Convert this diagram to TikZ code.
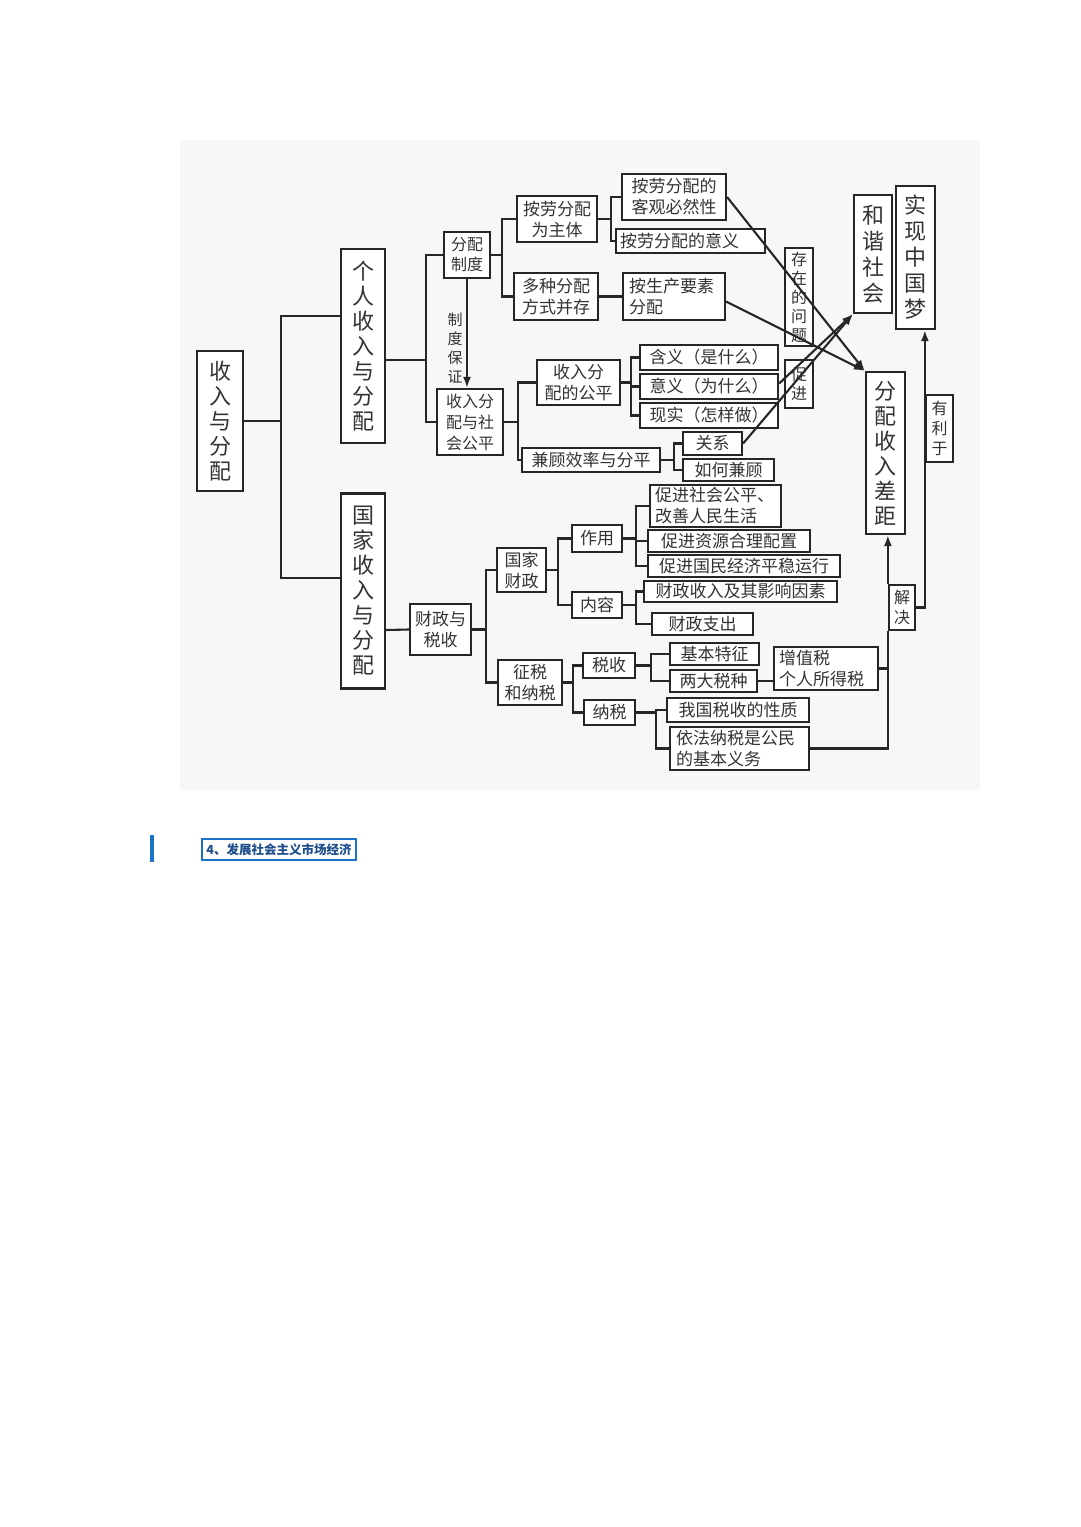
\documentclass[tikz,border=0pt]{standalone}
\usepackage{fontspec}
\setmainfont{Noto Sans CJK SC}
\usetikzlibrary{arrows.meta}
\newcommand\fsz[2]{\fontsize{#1}{#2}\selectfont}
\definecolor{bluemark}{HTML}{1A73C8}
\definecolor{bluetext}{HTML}{1F4E8C}
\tikzset{
  box/.style={draw=black!85, line width=2.2pt, fill=white, inner sep=0pt, align=center, text=black!80, font=\fsz{17}{21}},
  vbig/.style={box, font=\fsz{22}{25}},
  vsmall/.style={box, font=\fsz{16}{19}},
  lbox/.style={box, align=left},
  ln/.style={draw=black!85, line width=2.1pt},
  arr/.style={ln, -{Latex[length=11pt,width=8pt]}},
}
\begin{document}
\begin{tikzpicture}[x=1pt,y=-1pt]
\useasboundingbox (0,0) rectangle (1080,1527);
\fill[white] (0,0) rectangle (1080,1527);
\fill[black!3] (180,140) rectangle (980,790);

% main column
\node[vbig, minimum width=46, minimum height=140] (sr) at (220,421) {收\\入\\与\\分\\配};
\node[vbig, minimum width=44, minimum height=194] (gr) at (363,346) {个\\人\\收\\入\\与\\分\\配};
\node[vbig, minimum width=44, minimum height=195] (gj) at (363,591) {国\\家\\收\\入\\与\\分\\配};

% upper part
\node[box, font=\fsz{16}{20}, minimum width=46, minimum height=46] (fpzd) at (467,255) {分配\\制度};
\node[box, font=\fsz{16}{21}, minimum width=66, minimum height=66] (srfpsh) at (470,422) {收入分\\配与社\\会公平};
\node[box, minimum width=80, minimum height=46] (alzt) at (557,219) {按劳分配\\为主体};
\node[box, minimum width=84, minimum height=47] (dzfp) at (556,296.5) {多种分配\\方式并存};
\node[box, minimum width=104, minimum height=46] (kgbr) at (674,197) {按劳分配的\\客观必然性};
\node[box, minimum width=149, minimum height=24, text width=141, align=left] (alyy) at (690.5,241) {按劳分配的意义};
\node[lbox, minimum width=102, minimum height=47, text width=90] (scys) at (674,296.5) {按生产要素\\分配};
\node[font=\fsz{15}{19}, text=black!80, align=center, inner sep=0pt] (zdbz) at (455,348) {制\\度\\保\\证};

\node[box, minimum width=83, minimum height=45] (srgp) at (578.5,382.5) {收入分\\配的公平};
\node[box, minimum width=138, minimum height=25] (hy) at (709,357.5) {含义（是什么）};
\node[box, minimum width=138, minimum height=25] (yy) at (709,386.5) {意义（为什么）};
\node[box, minimum width=138, minimum height=25] (xs) at (709,415.5) {现实（怎样做）};
\node[box, minimum width=138, minimum height=24] (jgxl) at (591,460) {兼顾效率与分平};
\node[box, minimum width=59, minimum height=23] (gx) at (712.5,443.5) {关系};
\node[box, minimum width=91, minimum height=22] (rhjg) at (728.5,470) {如何兼顾};

% right side
\node[vsmall, minimum width=28, minimum height=98] (czwt) at (799,297) {存\\在\\的\\问\\题};
\node[vsmall, minimum width=28, minimum height=48] (cj) at (799,384) {促\\进};
\node[vbig, minimum width=38, minimum height=118, font=\fsz{22}{26}] (hxsh) at (873,254) {和\\谐\\社\\会};
\node[vbig, minimum width=39, minimum height=143, font=\fsz{22}{26}] (sxzgm) at (915.5,257.5) {实\\现\\中\\国\\梦};
\node[vbig, minimum width=39, minimum height=162] (fpsrcj) at (885.5,453) {分\\配\\收\\入\\差\\距};
\node[box, font=\fsz{16}{20}, minimum width=27, minimum height=67] (ylyu) at (939.5,428.5) {有\\利\\于};
\node[box, font=\fsz{16}{20}, minimum width=26, minimum height=45] (jj) at (902,607.5) {解\\决};

% lower part
\node[box, minimum width=61, minimum height=51] (czss) at (440.5,629.5) {财政与\\税收};
\node[box, minimum width=49, minimum height=44] (gjcz) at (521.5,570) {国家\\财政};
\node[box, minimum width=64, minimum height=45] (zsns) at (530,682.5) {征税\\和纳税};
\node[box, minimum width=50, minimum height=27] (zy) at (597,538.5) {作用};
\node[box, minimum width=50, minimum height=26] (nr) at (597,605) {内容};
\node[lbox, minimum width=131, minimum height=42, text width=121] (cjgp) at (715.5,506) {促进社会公平、\\改善人民生活};
\node[box, minimum width=162, minimum height=22] (zyhl) at (729,541) {促进资源合理配置};
\node[box, minimum width=192, minimum height=22] (gmjj) at (744,566) {促进国民经济平稳运行};
\node[box, minimum width=193, minimum height=21] (czsr) at (740.5,591.5) {财政收入及其影响因素};
\node[box, minimum width=101, minimum height=22] (cjzc) at (702.5,624) {财政支出};
\node[box, minimum width=52, minimum height=25] (ssh) at (609,665.5) {税收};
\node[box, minimum width=51, minimum height=25] (nsh) at (609.5,712.5) {纳税};
\node[box, minimum width=89, minimum height=22] (jbtz) at (714.5,654) {基本特征};
\node[box, minimum width=87, minimum height=22] (ldsz) at (713.5,681) {两大税种};
\node[lbox, minimum width=104, minimum height=43, text width=94] (zzs) at (826,668.5) {增值税\\个人所得税};
\node[box, minimum width=142, minimum height=24] (wgss) at (738,710) {我国税收的性质};
\node[lbox, minimum width=139, minimum height=43, text width=127] (yfns) at (739.5,748.5) {依法纳税是公民\\的基本义务};

% tree connectors
\draw[ln] (sr.east) -- ++(37,0) coordinate (j1);
\draw[ln] ([yshift=30]gr.west) -| (j1) |- ([yshift=13]gj.west);
\draw[ln] ([yshift=-14]gr.east) -- ++(40,0) coordinate (j2);
\draw[ln] (fpzd.west) -| (j2) |- (srfpsh.west);
\draw[ln] (fpzd.east) -- ++(11,0) coordinate (j3);
\draw[ln] (alzt.west) -| (j3) |- (dzfp.west);
\draw[ln] (alzt.east) -- ++(13,0) coordinate (j4);
\draw[ln] (kgbr.west) -| (j4) |- (alyy.west);
\draw[ln] (dzfp.east) -- (scys.west);
\draw[arr] (fpzd.south) -- (fpzd.south |- srfpsh.north);
\draw[ln] (srfpsh.east) -- ++(14,0) coordinate (j5);
\draw[ln] (srgp.west) -| (j5) |- (jgxl.west);
\draw[ln] (srgp.east) -- ++(10,0) coordinate (j6);
\draw[ln] (hy.west) -| (j6) |- (xs.west);
\draw[ln] (j6) |- (yy.west);
\draw[ln] (jgxl.east) -- ++(13,0) coordinate (j7);
\draw[ln] (gx.west) -| (j7) |- (rhjg.west);

\draw[ln] ([yshift=-39]gj.east) -- (czss.west);
\draw[ln] (czss.east) -- ++(14,0) coordinate (j8);
\draw[ln] (gjcz.west) -| (j8) |- (zsns.west);
\draw[ln] (gjcz.east) -- ++(11,0) coordinate (j9);
\draw[ln] (zy.west) -| (j9) |- (nr.west);
\draw[ln] (zy.east) -- ++(13,0) coordinate (j10);
\draw[ln] (cjgp.west) -| (j10) |- (gmjj.west);
\draw[ln] (j10) |- (zyhl.west);
\draw[ln] (nr.east) -- ++(13,0) coordinate (j11);
\draw[ln] (czsr.west) -| (j11) |- (cjzc.west);
\draw[ln] (zsns.east) -- ++(10,0) coordinate (j12);
\draw[ln] (ssh.west) -| (j12) |- (nsh.west);
\draw[ln] (ssh.east) -- ++(15,0) coordinate (j13);
\draw[ln] (jbtz.west) -| (j13) |- (ldsz.west);
\draw[ln] (ldsz.east) -- (ldsz.east -| zzs.west);
\draw[ln] (nsh.east) -- ++(20,0) coordinate (j14);
\draw[ln] (wgss.west) -| (j14) |- (yfns.west);

% right connectors
\draw[ln] (yfns.east) -| (jj.south west);
\draw[ln] (zzs.east) -- (zzs.east -| jj.west);
\draw[arr] (jj.north west) -- (jj.north west |- fpsrcj.south);
\coordinate (k) at (ylyu.west |- sxzgm.south);
\draw[arr] (jj.east) -| (k);

% diagonals
\draw[arr] (kgbr.east) -- (fpsrcj.north west);
\draw[arr] ([yshift=-5]scys.east) -- (fpsrcj.north west);
\draw[arr] ([yshift=3]yy.east) -- (hxsh.south west);
\draw[arr] (gx.east) -- (hxsh.south west);

% bottom heading
\fill[bluemark] (150,835) rectangle (154,862);
\node[draw=bluemark, line width=1.8pt, fill=white, inner sep=0pt, minimum width=154, minimum height=21, text=bluetext, font=\fsz{12.5}{14}\bfseries] (hd) at (279,849.5) {4、发展社会主义市场经济};
\end{tikzpicture}
\end{document}
